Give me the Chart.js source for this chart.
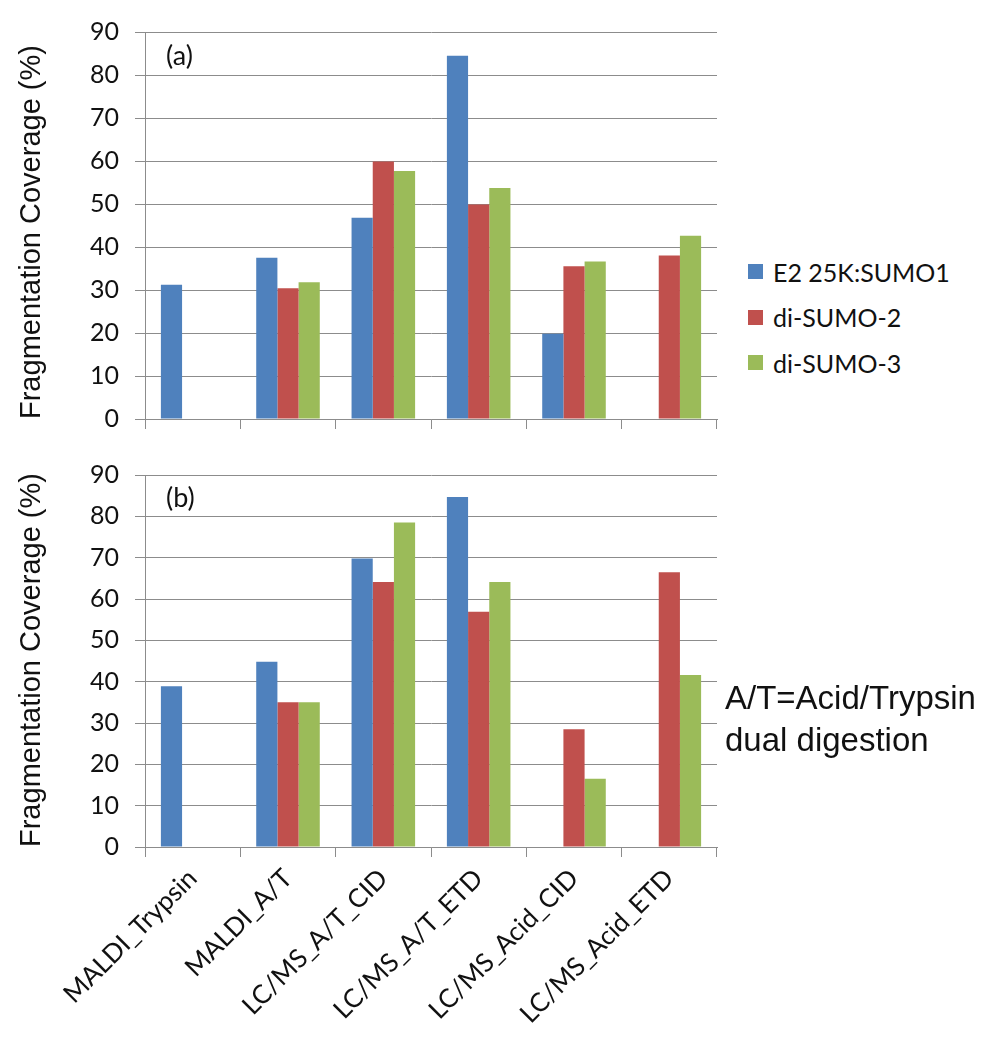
<!DOCTYPE html>
<html lang="en">
  <head>
    <meta charset="UTF-8" />
    <title>Fragmentation Coverage</title>
    <script src="https://cdn.jsdelivr.net/npm/chart.js@4.4.1/dist/chart.umd.min.js"></script>
    <style>
      body { margin: 0; background: #fff; }
      #page { position: relative; width: 990px; height: 1050px; overflow: hidden; }
      .box { position: absolute; left: 0; width: 730px; }
      .panel { position: absolute; left: 166px; font: 27px Lato, sans-serif; color: #111; line-height: 1; }
      #legend { position: absolute; left: 748px; top: 249px; font: 25px Lato, sans-serif; color: #111; }
      .item { height: 45.5px; display: flex; align-items: center; }
      .swatch { width: 15px; height: 15px; margin-right: 10px; }
      #note { position: absolute; left: 725px; top: 677px; font: 33px "Liberation Sans", Arial, sans-serif; line-height: 42px; color: #111; }
    </style>
  </head>
  <body>
    <div id="page">
      <!-- (a) panel -->
      <div class="box" style="top:0; height:450px;"><canvas id="chartA"></canvas></div>
      <!-- (b) panel -->
      <div class="box" style="top:440px; height:610px;"><canvas id="chartB"></canvas></div>
      <div class="panel" style="top:41px;">(a)</div>
      <div class="panel" style="top:483px;">(b)</div>
      <div id="legend"></div>
      <div id="note">A/T=Acid/Trypsin<br>dual digestion</div>
    </div>

    <script>
      // categories and series
      var categories = ['MALDI_Trypsin', 'MALDI_A/T', 'LC/MS_A/T_CID', 'LC/MS_A/T_ETD', 'LC/MS_Acid_CID', 'LC/MS_Acid_ETD'];
      var seriesNames = ['E2 25K:SUMO1', 'di-SUMO-2', 'di-SUMO-3'];
      var seriesColors = ['#4F81BD', '#C0504D', '#9BBB59'];
      var yTicks = [0, 10, 20, 30, 40, 50, 60, 70, 80, 90];

      // (a)
      var e2A    = [31.2, 37.5, 46.8, 84.5, 19.8, null];
      var sumo2A = [null, 30.4, 59.9, 49.9, 35.5, 38.0];
      var sumo3A = [null, 31.8, 57.7, 53.7, 36.6, 42.6];

      // (b)
      var e2B    = [38.9, 44.8, 69.8, 84.7, null, null];
      var sumo2B = [null, 35.0, 64.1, 56.9, 28.5, 66.5];
      var sumo3B = [null, 35.0, 78.5, 64.1, 16.5, 41.6];

      var gridGray = '#8c8c8c';

      function makeChart(id, values, showLabels, padTop, xHeight) {
        var ctx = document.getElementById(id);
        return new Chart(ctx, {
          type: 'bar',
          data: {
            labels: categories,
            datasets: values.map(function (v, i) {
              return {
                label: seriesNames[i],
                data: v,
                backgroundColor: seriesColors[i],
                borderWidth: 0,
                categoryPercentage: 3 / 4.5,
                barPercentage: 1
              };
            })
          },
          options: {
            responsive: true,
            maintainAspectRatio: false,
            animation: false,
            layout: { padding: { top: padTop, right: 13, left: 0, bottom: 0 } },
            plugins: { legend: { display: false }, tooltip: { enabled: false } },
            scales: {
              x: {
                grid: { display: true, drawOnChartArea: false, drawTicks: true, tickLength: 10, color: gridGray },
                border: { display: true, color: gridGray },
                ticks: {
                  display: showLabels,
                  minRotation: 45,
                  maxRotation: 45,
                  padding: 6,
                  color: '#111',
                  font: { family: 'Lato', size: 26 }
                },
                afterFit: function (scale) { scale.height = xHeight; }
              },
              y: {
                min: 0,
                max: 90,
                afterBuildTicks: function (scale) {
                  scale.ticks = yTicks.map(function (t) { return { value: t }; });
                },
                grid: { color: gridGray, tickLength: 10, drawTicks: true },
                border: { display: true, color: gridGray },
                ticks: { padding: 16, color: '#111', font: { family: 'Lato', size: 25 } },
                title: {
                  display: true,
                  text: 'Fragmentation Coverage (%)',
                  align: 'start',
                  color: '#111',
                  padding: { top: 15, bottom: 0 },
                  font: { family: 'Liberation Sans', size: 29 }
                },
                afterFit: function (scale) { scale.width = 145; }
              }
            }
          }
        });
      }

      var chartA = makeChart('chartA', [e2A, sumo2A, sumo3A], false, 32, 24);
      var chartB = makeChart('chartB', [e2B, sumo2B, sumo3B], true, 35, 203);

      // legend on the right
      var legend = document.getElementById('legend');
      seriesNames.forEach(function (name, i) {
        var row = document.createElement('div');
        row.className = 'item';
        row.innerHTML = '<span class="swatch" style="background:' + seriesColors[i] + '"></span>' + name;
        legend.appendChild(row);
      });
    </script>
  </body>
</html>
